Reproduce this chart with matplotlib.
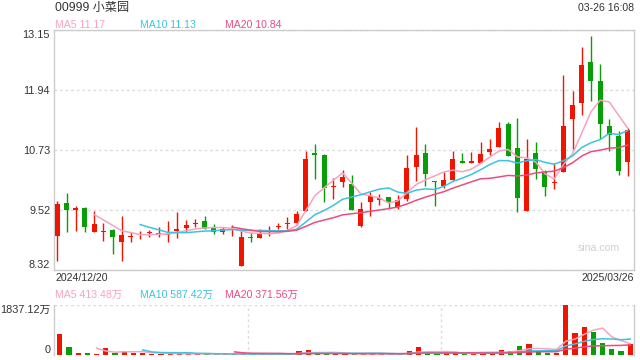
import numpy as np
import pandas as pd
import matplotlib
matplotlib.use('Agg')
import matplotlib.pyplot as plt

plt.rcParams['font.family'] = ['Liberation Sans', 'Noto Sans CJK SC', 'DejaVu Sans']

#### ++++++++++++++++++++++++++++++++++++++++++++++++++++++++++
#%%  data
#### ++++++++++++++++++++++++++++++++++++++++++++++++++++++++++

title = '00999 小菜园'
timestamp = '03-26 16:08'
first_date = '2024/12/20'
last_date = '2025/03/26'
watermark = 'sina.com'

open_ = [9.00, 9.66, 9.52, 9.56, 9.08, 9.08, 9.12, 8.88, 8.97, 9.02,
         9.05, 9.03, 9.02, 9.10, 9.16, 9.24, 9.30, 9.15, 9.08, 9.12,
         8.40, 8.98, 8.96, 9.08, 9.17, 9.23, 9.26, 9.49, 10.66, 10.63,
         9.99, 10.09, 10.04, 9.20, 9.69, 9.72, 9.78, 9.59, 9.74, 10.39,
         10.66, 10.10, 10.00, 10.12, 10.51, 10.46, 10.47, 10.68, 10.80, 11.25,
         10.78, 9.49, 10.66, 10.29, 10.07, 10.29, 11.35, 11.68, 12.50, 12.12,
         11.21, 11.01, 10.49]
high = [9.70, 9.86, 9.60, 9.58, 9.49, 9.25, 9.13, 9.40, 9.08, 9.10,
        9.12, 9.18, 9.30, 9.47, 9.32, 9.33, 9.40, 9.24, 9.18, 9.22,
        9.14, 9.06, 9.14, 9.20, 9.25, 9.37, 9.49, 10.70, 10.86, 10.65,
        10.16, 10.33, 10.23, 9.69, 9.89, 9.84, 9.78, 9.82, 10.63, 11.19,
        10.85, 10.10, 10.29, 10.70, 10.66, 10.68, 10.90, 10.95, 11.30, 11.30,
        11.37, 10.95, 10.90, 10.33, 10.46, 12.24, 11.92, 12.80, 13.03, 12.46,
        11.36, 11.11, 11.18]
low = [8.50, 9.08, 9.10, 9.07, 9.08, 8.90, 8.63, 8.49, 8.88, 8.93,
       8.98, 8.98, 8.88, 8.96, 9.08, 9.18, 9.14, 9.03, 9.04, 9.00,
       8.40, 8.88, 8.96, 9.00, 9.14, 9.14, 9.22, 9.49, 10.14, 9.69,
       9.74, 9.99, 9.51, 9.18, 9.40, 9.62, 9.57, 9.54, 9.71, 10.10,
       10.00, 9.61, 9.96, 10.12, 10.46, 10.46, 10.47, 10.63, 10.80, 10.61,
       9.47, 9.49, 10.15, 9.81, 9.94, 10.29, 10.76, 11.44, 11.72, 10.95,
       10.70, 10.23, 10.21]
close = [9.64, 9.52, 9.57, 9.18, 9.24, 9.09, 8.98, 9.02, 8.99, 9.04,
         9.07, 9.04, 9.04, 9.14, 9.22, 9.25, 9.14, 9.08, 9.14, 9.13,
         8.98, 8.95, 9.04, 9.10, 9.20, 9.24, 9.44, 10.55, 10.63, 9.97,
         10.00, 10.19, 9.51, 9.54, 9.80, 9.77, 9.69, 9.72, 10.36, 10.63,
         10.24, 10.08, 10.12, 10.55, 10.46, 10.51, 10.65, 10.76, 11.17, 10.61,
         9.77, 10.54, 10.35, 9.99, 10.08, 11.21, 11.64, 12.44, 12.13, 11.25,
         11.03, 10.31, 11.13]
# volume in 万
volume = [770, 295, 75, 75, 40, 255, 75, 150, 70, 70,
          40, 55, 40, 45, 40, 35, 45, 35, 40, 35,
          45, 30, 35, 35, 20, 40, 150, 185, 50, 45,
          40, 45, 40, 45, 40, 35, 25, 40, 150, 300,
          75, 40, 70, 70, 40, 70, 70, 75, 185, 150,
          330, 405, 150, 75, 70, 1837.12, 790, 1030, 845, 440,
          220, 150, 410]

price_ticks = [8.32, 9.52, 10.73, 11.94, 13.15]
price_ma_labels = ['MA5 11.17', 'MA10 11.13', 'MA20 10.84']
vol_ma_labels = ['MA5 413.48万', 'MA10 587.42万', 'MA20 371.56万']
vol_tick_labels = ['0', '1837.12万']

ma_windows = [5, 10, 20]
ma_colors = ['#f7a3c0', '#3cc3e0', '#ec4c7e']
up_color = '#f01500'
down_color = '#089e08'
text_color = '#333333'
frame_color = '#cccccc'
grid_color = '#dddddd'

#### ++++++++++++++++++++++++++++++++++++++++++++++++++++++++++
#%%  plot
#### ++++++++++++++++++++++++++++++++++++++++++++++++++++++++++

df = pd.DataFrame({'open': open_, 'high': high, 'low': low,
                   'close': close, 'volume': volume})
x = np.arange(len(df))
colors = np.where(df['close'] >= df['open'], up_color, down_color)

W, H = 640, 360
fig = plt.figure(figsize=(6.4, 3.6), dpi=100)
ax1 = fig.add_axes([54.3 / W, 90 / H, (634 - 54.3) / W, 240 / H])
ax2 = fig.add_axes([54.3 / W, 5 / H, (634 - 54.3) / W, 50 / H])

# candles
body = np.maximum((df['close'] - df['open']).abs(), 0.02)
bottom = np.minimum(df['open'], df['close'])
ax1.vlines(x, df['low'], df['high'], color=colors, lw=1, zorder=2)
ax1.bar(x, body, bottom=bottom, width=0.55, color=colors, lw=0, zorder=3)

for w, c in zip(ma_windows, ma_colors):
    ax1.plot(x, df['close'].rolling(w).mean(), color=c, lw=1.1, zorder=4)

ax1.set_xlim(-0.33, 62.68)
ax1.set_ylim(8.31, 13.15)
ax1.set_xticks([])
ax1.set_yticks(price_ticks, labels=['%.2f' % v for v in price_ticks])
ax1.tick_params(axis='y', length=0, pad=3, labelsize=7.8, labelcolor=text_color)
ylabels = ax1.get_yticklabels()
ylabels[0].set_va('bottom')
ylabels[-1].set_va('top')
ax1.grid(axis='y', color=grid_color, lw=1, dashes=(2, 2))
ax1.set_axisbelow(True)
for s in ax1.spines.values():
    s.set_color(frame_color)
    s.set_linewidth(1)

ax1.text(0.975, 0.09, watermark, transform=ax1.transAxes, ha='right',
         va='center', fontsize=7.6, color='#d0d0d0')

# volume
ax2.bar(x, df['volume'], width=0.55, color=colors, lw=0, zorder=3)
for w, c in zip(ma_windows, ma_colors):
    ax2.plot(x, df['volume'].rolling(w).mean(), color=c, lw=1.1, zorder=4)

xl = (-0.6, 62.41)
ax2.set_xlim(xl)
ax2.set_ylim(0, max(volume))
ax2.set_xticks([xl[0] + (xl[1] - xl[0]) / 3, xl[0] + 2 * (xl[1] - xl[0]) / 3])
ax2.tick_params(axis='x', length=0, labelbottom=False)
ax2.set_yticks([0, max(volume)], labels=vol_tick_labels)
ax2.tick_params(axis='y', length=0, pad=3, labelsize=7.8, labelcolor=text_color)
vlabels = ax2.get_yticklabels()
vlabels[0].set_va('bottom')
vlabels[-1].set_va('top')
ax2.grid(axis='x', color=grid_color, lw=1, dashes=(2, 2))
ax2.axhline(max(volume), color=grid_color, lw=1, dashes=(2, 2))
ax2.set_axisbelow(True)
ax2.spines['top'].set_visible(False)
ax2.spines['bottom'].set_visible(False)
for s in ['left', 'right']:
    ax2.spines[s].set_color(frame_color)
    ax2.spines[s].set_linewidth(1)

# header / labels
fig.text(55 / W, 1 - 8 / H, title, fontsize=8.7, color=text_color, va='center')
fig.text(634 / W, 1 - 8 / H, timestamp, fontsize=7.6, color=text_color,
         va='center', ha='right')
for lbl, c, px in zip(price_ma_labels, ma_colors, [55, 140, 225]):
    fig.text(px / W, 1 - 24.5 / H, lbl, fontsize=7.6, color=c, va='center')
fig.text(55 / W, 1 - 278 / H, first_date, fontsize=7.6, color=text_color, va='center')
fig.text(634 / W, 1 - 278 / H, last_date, fontsize=7.6, color=text_color,
         va='center', ha='right')
for lbl, c, px in zip(vol_ma_labels, ma_colors, [55, 140, 225]):
    fig.text(px / W, 1 - 295 / H, lbl, fontsize=7.6, color=c, va='center')

plt.savefig('out.png', dpi=100)
